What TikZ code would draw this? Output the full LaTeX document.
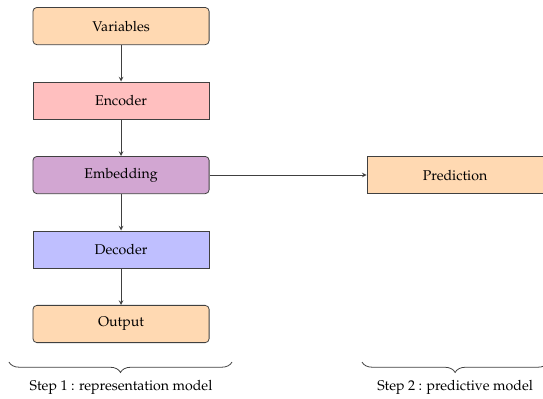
\documentclass[tikz,border=0pt]{standalone}
\usepackage[T1]{fontenc}
\usepackage{mathpazo}
\usepackage{tikz}
\usetikzlibrary{decorations.pathreplacing}

\begin{document}
\begin{tikzpicture}[scale=1, font=\fontsize{10.8pt}{13pt}\selectfont,
    blk/.style={draw=black!75, semithick, minimum width=4.73cm, minimum height=1cm, inner sep=0pt},
    flow/.style={draw=black!75, semithick, ->, >=stealth}]
      \useasboundingbox (0,0) rectangle (14.58,-10.69);
      \node (Var) at (3.25,-0.7) [blk, rounded corners=3pt, fill=orange!30] {Variables};
      \node (Enc) at (3.25,-2.7) [blk, fill=red!25] {Encoder};
      \node (Emb) at (3.25,-4.7) [blk, rounded corners=3pt, fill=violet!35] {Embedding};
      \node (Dec) at (3.25,-6.7) [blk, fill=blue!25] {Decoder};
      \node (Out) at (3.25,-8.7) [blk, rounded corners=3pt, fill=orange!30] {Output};
      \node (Pred) at (12.22,-4.7) [blk, fill=orange!30] {Prediction};
      \draw[flow] (Var) to (Enc);
      \draw[flow] (Enc) to (Emb);
      \draw[flow] (Emb) to (Dec);
      \draw[flow] (Dec) to (Out);
      \draw[flow] (Emb) to (Pred);
      % braces under the two steps
      \coordinate (B1r) at (6.23,-9.72);
      \coordinate (B1l) at (0.24,-9.72);
      \coordinate (B2r) at (14.72,-9.72);
      \coordinate (B2l) at (9.72,-9.72);
      \draw[black!75, semithick, decorate, decoration={brace, amplitude=8pt}] (B1r) to (B1l);
      \draw[black!75, semithick, decorate, decoration={brace, amplitude=8pt}] (B2r) to (B2l);
      \node (S1) at (3.25,-10.39) {Step 1 : representation model};
      \node (S2) at (12.22,-10.39) {Step 2 : predictive model};
    \end{tikzpicture}
\end{document}
